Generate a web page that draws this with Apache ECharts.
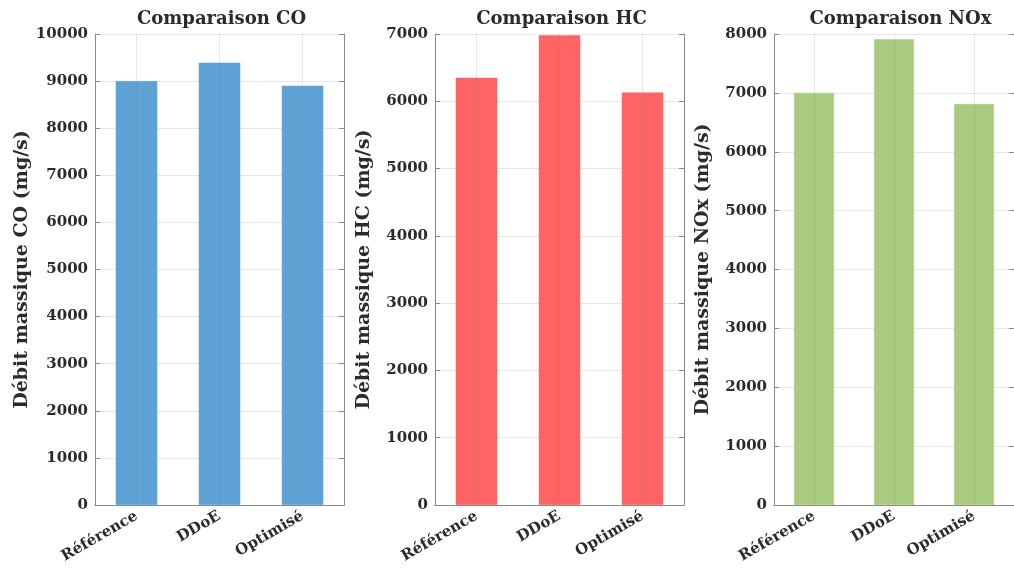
<!DOCTYPE html>
<html>
<head>
<meta charset="utf-8">
<script src="https://cdn.jsdelivr.net/npm/echarts@6/dist/echarts.min.js"></script>
<style>
  html, body { margin: 0; padding: 0; background: #fff; }
  #chart { width: 1014px; height: 575px; }
</style>
</head>
<body>
<div id="chart"></div>
<script>
// données
const categories = ['Référence', 'DDoE', 'Optimisé']
const coValues = [9000, 9390, 8900]
const hcValues = [6350, 6980, 6130]
const noxValues = [7000, 7910, 6810]
const titles = ['Comparaison CO', 'Comparaison HC', 'Comparaison NOx']
const yNames = ['Débit massique CO (mg/s)', 'Débit massique HC (mg/s)', 'Débit massique NOx (mg/s)']
const yMax = [10000, 7000, 8000]
const colors = ['#5fa3d6', '#ff6464', '#a9cb7f']

const font = 'DejaVu Serif'
const textColor = '#2b2b2b'
const axisColor = '#8a8a8a'
const gridColor = '#e6e6e6'

// position des trois axes (px)
const lefts = [95, 435, 774]
const plotW = 249
const plotTop = 34
const plotH = 471

const allValues = [coValues, hcValues, noxValues]

let option = {
  animation: false,
  backgroundColor: '#fff',
  title: [],
  grid: [],
  xAxis: [],
  yAxis: [],
  series: []
}

for (let i = 0; i < 3; i++) {
  option.title.push({
    text: titles[i],
    left: lefts[i] + plotW / 2 - 3,
    top: 5,
    textAlign: 'center',
    textStyle: { fontFamily: font, fontSize: 18, fontWeight: 'bold', color: textColor }
  })
  option.grid.push({ left: lefts[i], top: plotTop, width: plotW, height: plotH })

  // axe x principal (bas)
  option.xAxis.push({
    type: 'category',
    gridIndex: i,
    data: categories,
    position: 'bottom',
    axisLine: { lineStyle: { color: axisColor } },
    axisTick: { inside: true, alignWithLabel: true, length: 5, lineStyle: { color: axisColor } },
    axisLabel: { rotate: 30, margin: 10, fontFamily: font, fontSize: 15, fontWeight: 'bold', color: textColor }
  })
  // axe x haut (cadre)
  option.xAxis.push({
    type: 'category',
    gridIndex: i,
    data: categories,
    position: 'top',
    axisLine: { lineStyle: { color: axisColor } },
    axisTick: { inside: true, alignWithLabel: true, length: 5, lineStyle: { color: axisColor } },
    axisLabel: { show: false }
  })
  // axe y gauche
  option.yAxis.push({
    type: 'value',
    gridIndex: i,
    min: 0,
    max: yMax[i],
    interval: 1000,
    position: 'left',
    name: yNames[i],
    nameLocation: 'middle',
    nameGap: 61,
    nameTextStyle: { fontFamily: font, fontSize: 19, fontWeight: 'bold', color: textColor },
    axisLine: { show: true, lineStyle: { color: axisColor } },
    axisTick: { show: true, inside: true, length: 5, lineStyle: { color: axisColor } },
    axisLabel: { margin: 7, fontFamily: font, fontSize: 15, fontWeight: 'bold', color: textColor,
      formatter: v => String(v) },
    splitLine: { show: true, lineStyle: { color: gridColor } }
  })
  // axe y droit (cadre)
  option.yAxis.push({
    type: 'value',
    gridIndex: i,
    min: 0,
    max: yMax[i],
    interval: 1000,
    position: 'right',
    axisLine: { show: true, lineStyle: { color: axisColor } },
    axisTick: { show: true, inside: true, length: 5, lineStyle: { color: axisColor } },
    axisLabel: { show: false },
    splitLine: { show: false }
  })

  option.series.push({
    type: 'bar',
    xAxisIndex: i * 2,
    yAxisIndex: i * 2,
    data: allValues[i],
    barWidth: '50%',
    itemStyle: { color: colors[i], borderColor: colors[i], borderWidth: 0.5 },
    markLine: {
      silent: true,
      symbol: 'none',
      label: { show: false },
      lineStyle: { color: 'rgba(120,120,120,0.18)', type: 'solid', width: 1 },
      data: categories.map(c => ({ xAxis: c }))
    }
  })
}

let myChart = echarts.init(document.getElementById('chart'))
myChart.setOption(option)
</script>
</body>
</html>
